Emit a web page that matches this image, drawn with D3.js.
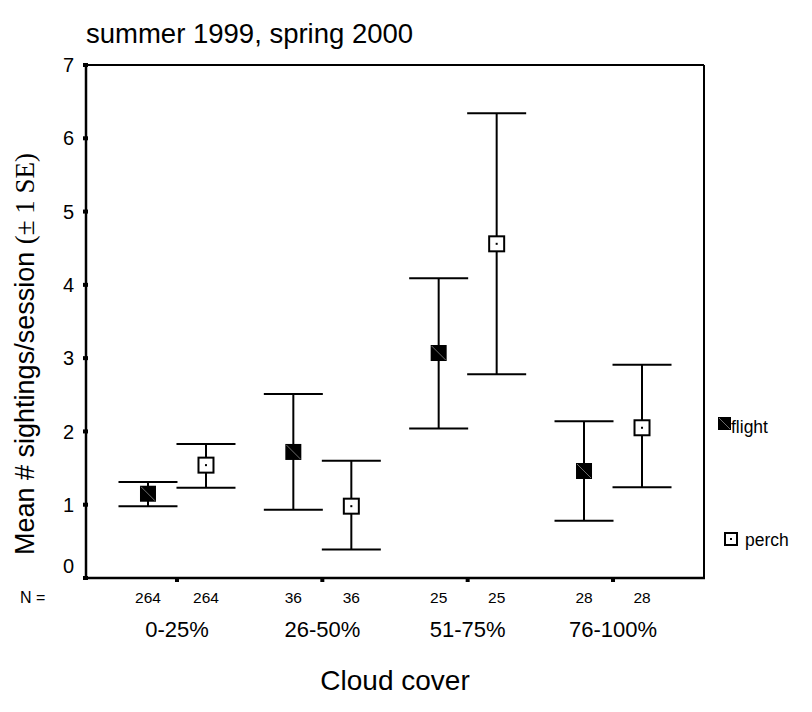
<!DOCTYPE html>
<html><head><meta charset="utf-8">
<script src="https://cdn.jsdelivr.net/npm/d3@7"></script>
<style>body{margin:0;background:#fff}svg{display:block}text{font-family:"Liberation Sans",Arial,sans-serif;fill:#000}</style>
</head><body>
<svg id="c" width="812" height="712"></svg>
<script>
const categories = ["0-25%","26-50%","51-75%","76-100%"];
const series = ["flight","perch"];
const nCounts = [264,36,25,28];
const flightMean = [1.15,1.72,3.07,1.46];
const flightLow  = [0.98,0.93,2.04,0.78];
const flightHigh = [1.31,2.51,4.09,2.14];
const perchMean  = [1.54,0.98,4.56,2.05];
const perchLow   = [1.23,0.39,2.78,1.24];
const perchHigh  = [1.83,1.60,6.34,2.91];
const yTicks = [0,1,2,3,4,5,6,7];

const svg = d3.select("#c");
const L=86,R=704,T=65,B=578;
const x = d3.scalePoint().domain(categories).range([L,R]).padding(0.626);
const dx = d3.scalePoint().domain(series).range([-29,29]);
const y = d3.scaleLinear().domain([0,7]).range([B,T]);

// frame
svg.append("line").attr("x1",L).attr("x2",R).attr("y1",T).attr("y2",T).attr("stroke","#000").attr("stroke-width",2);
svg.append("line").attr("x1",R).attr("x2",R).attr("y1",T).attr("y2",B).attr("stroke","#000").attr("stroke-width",2);
svg.append("line").attr("x1",L).attr("x2",L).attr("y1",T).attr("y2",B+1).attr("stroke","#000").attr("stroke-width",2.5);
svg.append("line").attr("x1",L-1).attr("x2",R+1).attr("y1",B).attr("y2",B).attr("stroke","#000").attr("stroke-width",2.5);

// y ticks (square marks) and labels
const yg = svg.append("g");
yg.selectAll("rect").data(yTicks).join("rect")
  .attr("x",L-3).attr("y",d=>y(d)-2).attr("width",5).attr("height",4).attr("fill","#000");
yg.selectAll("text").data(yTicks).join("text")
  .attr("x",L-12).attr("y",d=>y(d)+(d===0?-12:0)).attr("dy","0.36em")
  .attr("text-anchor","end").attr("font-size",20).text(d=>d);

// x ticks
const xg = svg.append("g");
xg.selectAll("rect").data(categories).join("rect")
  .attr("x",d=>x(d)-2).attr("y",B).attr("width",4).attr("height",4).attr("fill","#000");
xg.selectAll("text.cat").data(categories).join("text").attr("class","cat")
  .attr("x",d=>x(d)).attr("y",637).attr("text-anchor","middle").attr("font-size",22).text(d=>d);

// N labels
svg.append("text").attr("x",20).attr("y",603).attr("font-size",16).text("N =");
categories.forEach((c,i)=>{
  series.forEach(s=>{
    svg.append("text").attr("x",x(c)+dx(s)).attr("y",603).attr("text-anchor","middle")
      .attr("font-size",15.5).text(nCounts[i]);
  });
});

// data
const rows = [];
categories.forEach((c,i)=>{
  rows.push({c,s:"flight",m:flightMean[i],lo:flightLow[i],hi:flightHigh[i]});
  rows.push({c,s:"perch",m:perchMean[i],lo:perchLow[i],hi:perchHigh[i]});
});
const g = svg.append("g");
const cap = 29.5;
rows.forEach(r=>{
  const cx = x(r.c)+dx(r.s);
  g.append("line").attr("x1",cx).attr("x2",cx).attr("y1",y(r.hi)).attr("y2",y(r.lo)).attr("stroke","#000").attr("stroke-width",2);
  g.append("line").attr("x1",cx-cap).attr("x2",cx+cap).attr("y1",y(r.hi)).attr("y2",y(r.hi)).attr("stroke","#000").attr("stroke-width",2);
  g.append("line").attr("x1",cx-cap).attr("x2",cx+cap).attr("y1",y(r.lo)).attr("y2",y(r.lo)).attr("stroke","#000").attr("stroke-width",2);
  drawMarker(g,r.s,cx,y(r.m),16);
});

function drawMarker(sel,s,cx,cy,sz){
  const h=sz/2;
  if(s==="flight"){
    sel.append("rect").attr("x",cx-h).attr("y",cy-h).attr("width",sz).attr("height",sz).attr("fill","#000");
    sel.append("line").attr("x1",cx-h+1).attr("y1",cy-h+1).attr("x2",cx+h-1).attr("y2",cy+h-1).attr("stroke","#888").attr("stroke-width",0.8);
  } else {
    sel.append("rect").attr("x",cx-h+0.5).attr("y",cy-h+0.5).attr("width",sz-1).attr("height",sz-1).attr("fill","#fff").attr("stroke","#000").attr("stroke-width",2);
    sel.append("rect").attr("x",cx-1).attr("y",cy-1).attr("width",2).attr("height",2).attr("fill","#000");
  }
}

// legend
drawMarker(svg,"flight",724.5,423.5,13);
svg.append("text").attr("x",731).attr("y",433).attr("font-size",17.5).text("flight");
drawMarker(svg,"perch",731,539,13);
svg.append("text").attr("x",745).attr("y",546).attr("font-size",17.5).text("perch");

// titles
svg.append("text").attr("x",86).attr("y",43).attr("font-size",27.5).text("summer 1999, spring 2000");
svg.append("text").attr("x",395).attr("y",690).attr("text-anchor","middle").attr("font-size",28).text("Cloud cover");
const yt = svg.append("text").attr("transform","translate(34,354) rotate(-90)").attr("text-anchor","middle").attr("font-size",27);
yt.append("tspan").text("Mean # sightings/session ");
yt.append("tspan").attr("font-family","'Liberation Serif','Times New Roman',serif").text("(\u00b1 1 SE)");
</script>
</body></html>
